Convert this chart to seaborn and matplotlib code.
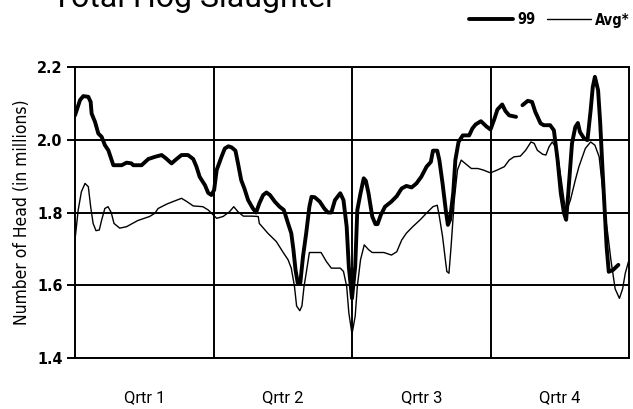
import numpy as np
import pandas as pd
import seaborn as sns
import matplotlib.pyplot as plt

# weekly hog slaughter, millions of head
week_99 = [0, 0.47, 0.78, 1.25, 1.47, 1.56, 1.88, 2.19, 2.5, 2.81, 3.13, 3.6, 4.38, 4.84, 5.3,
           5.47, 6.25, 6.88, 7.5, 8.13, 8.53, 9.06, 9.53, 10.0, 10.6, 11.1, 11.4, 11.7, 12.2,
           12.5, 12.8, 13.06, 13.3, 13.75, 14.06, 14.4, 14.7, 15.06, 15.3, 15.6, 15.9, 16.25,
           16.7, 17.0, 17.3, 17.66, 17.97, 18.3, 18.75, 19.2, 19.6, 20.0, 20.3, 20.5, 20.7,
           20.9, 21.15, 21.4, 21.7, 22.0, 22.2, 22.5, 22.97, 23.4, 23.75, 24.06, 24.4, 24.9,
           25.2, 25.5, 25.7, 26.0, 26.3, 26.5, 26.8, 27.1, 27.3, 27.55, 27.9, 28.2, 28.4, 28.7,
           29.1, 29.7, 30.2, 30.66, 31.1, 31.6, 32.05, 32.5, 33.0, 33.4, 33.6, 34.0, 34.2, 34.5,
           34.8, 35.0, 35.2, 35.5, 35.7, 36.0, 36.4, 37.0, 37.3, 37.6, 38.1, 38.6, 39.0, 39.35,
           39.65, 40.1, 40.4, 40.75, 41.4, 41.7, 42.0, 42.5, 42.9, 43.2, 43.7, 44.0, 44.6, 44.95,
           45.3, 45.6, 45.9, 46.1, 46.3, 46.65, 46.96, 47.2, 47.4, 47.8, 48.1, 48.4, 48.6, 48.8,
           49.1, 49.3, 49.5, 49.7, 49.9, 50.1, 50.5, 51.0]
head_99 = [2.067, 2.109, 2.12, 2.118, 2.104, 2.072, 2.049, 2.017, 2.008, 1.985, 1.971, 1.93, 1.93,
           1.937, 1.935, 1.93, 1.93, 1.947, 1.953, 1.958, 1.949, 1.935, 1.947, 1.958, 1.958,
           1.947, 1.926, 1.898, 1.875, 1.854, 1.848, 1.862, 1.917, 1.953, 1.976, 1.982, 1.979,
           1.97, 1.935, 1.889, 1.866, 1.834, 1.811, 1.80, 1.825, 1.848, 1.855, 1.848, 1.83,
           1.816, 1.807, 1.77, 1.743, 1.698, 1.642, 1.607, 1.607, 1.679, 1.743, 1.816, 1.843,
           1.842, 1.83, 1.811, 1.80, 1.80, 1.834, 1.853, 1.834, 1.761, 1.651, 1.564, 1.651,
           1.807, 1.853, 1.894, 1.887, 1.853, 1.789, 1.768, 1.768, 1.793, 1.816, 1.83, 1.845,
           1.866, 1.873, 1.869, 1.88, 1.898, 1.926, 1.939, 1.97, 1.97, 1.944, 1.88, 1.807, 1.766,
           1.78, 1.853, 1.944, 1.994, 2.012, 2.012, 2.031, 2.042, 2.051, 2.037, 2.028, 2.056,
           2.083, 2.097, 2.079, 2.067, 2.063, np.nan, 2.095, 2.107, 2.104, 2.077, 2.045, 2.04,
           2.04, 2.026, 1.944, 1.853, 1.798, 1.78, 1.853, 1.99, 2.035, 2.046, 2.021, 2.003,
           1.999, 2.081, 2.145, 2.173, 2.136, 2.045, 1.926, 1.816, 1.705, 1.637, 1.642, 1.656]

week_avg = [0, 0.3, 0.6, 0.94, 1.25, 1.47, 1.7, 1.97, 2.28, 2.5, 2.8, 3.1, 3.4, 3.66, 4.2, 4.84,
            5.9, 7.0, 7.5, 7.8, 8.6, 9.2, 10.0, 10.5, 11.1, 12.0, 12.5, 13.3, 13.9, 14.5, 14.9,
            15.3, 15.8, 16.6, 17.2, 17.3, 18.1, 18.9, 19.5, 20.0, 20.3, 20.6, 20.8, 21.1, 21.3,
            21.5, 21.7, 22.0, 22.5, 23.1, 23.6, 24.06, 24.9, 25.2, 25.5, 25.7, 26.0, 26.3, 26.5,
            26.8, 27.15, 27.55, 27.9, 29.0, 29.7, 30.2, 30.66, 31.1, 31.7, 32.4, 33.05, 33.6,
            34.0, 34.2, 34.5, 34.8, 34.9, 35.1, 35.3, 35.6, 35.9, 36.25, 36.7, 37.2, 37.8, 38.3,
            39.0, 39.65, 40.3, 40.75, 41.2, 41.8, 42.3, 42.8, 43.1, 43.4, 43.9, 44.2, 44.5, 44.8,
            45.2, 45.6, 45.9, 46.1, 46.5, 46.96, 47.3, 47.9, 48.4, 48.8, 49.2, 49.5, 49.7, 50.0,
            50.3, 50.7, 51.1, 51.4, 51.65, 52.0]
head_avg = [1.725, 1.807, 1.857, 1.88, 1.871, 1.816, 1.77, 1.75, 1.752, 1.779, 1.811, 1.816, 1.80,
            1.77, 1.757, 1.761, 1.778, 1.789, 1.798, 1.811, 1.823, 1.83, 1.839, 1.83, 1.818,
            1.816, 1.807, 1.784, 1.789, 1.802, 1.816, 1.802, 1.79, 1.79, 1.789, 1.77, 1.743,
            1.72, 1.692, 1.67, 1.647, 1.597, 1.543, 1.53, 1.543, 1.597, 1.633, 1.69, 1.69, 1.69,
            1.665, 1.647, 1.647, 1.638, 1.597, 1.525, 1.466, 1.515, 1.597, 1.67, 1.711, 1.698,
            1.69, 1.69, 1.683, 1.692, 1.724, 1.743, 1.761, 1.78, 1.80, 1.816, 1.82, 1.789, 1.734,
            1.661, 1.638, 1.633, 1.706, 1.834, 1.917, 1.944, 1.933, 1.921, 1.921, 1.917, 1.909,
            1.917, 1.926, 1.944, 1.953, 1.955, 1.971, 1.994, 1.99, 1.971, 1.96, 1.958, 1.981,
            1.994, 1.976, 1.898, 1.834, 1.802, 1.834, 1.889, 1.926, 1.976, 1.994, 1.985, 1.953,
            1.871, 1.807, 1.743, 1.67, 1.59, 1.564, 1.59, 1.633, 1.67]

qtr_labels = ['Qrtr 1', 'Qrtr 2', 'Qrtr 3', 'Qrtr 4']
qtr_centers = [6.5, 19.5, 32.5, 45.5]
qtr_edges = [13, 26, 39]
y_ticks = [1.4, 1.6, 1.8, 2.0, 2.2]

sns.set_style('white')
narrow = ['Liberation Sans Narrow', 'DejaVu Sans']
plt.rcParams['font.family'] = narrow
plt.rcParams['font.stretch'] = 'condensed'
for k in ['text.color', 'axes.labelcolor', 'xtick.color', 'ytick.color']:
    plt.rcParams[k] = 'black'

fig = plt.figure(figsize=(6.33, 4.09), dpi=100)
ax = fig.add_axes([75 / 633, 1 - 358 / 409, 554 / 633, 291 / 409])

# 99 line has a missing week, draw it in pieces so the gap stays
d99 = pd.DataFrame({'week': week_99, 'head': head_99})
gap = d99['head'].isna()
for i, (k, part) in enumerate(d99[~gap].groupby(gap.cumsum()[~gap])):
    sns.lineplot(data=part, x='week', y='head', color='black', lw=2.8, ax=ax,
                 estimator=None, sort=False, label='99' if i == 0 else None)

avg = pd.DataFrame({'week': week_avg, 'head': head_avg})
sns.lineplot(data=avg, x='week', y='head', color='black', lw=1.0, ax=ax,
             estimator=None, sort=False, label='Avg*')

ax.set_xlim(0, 52)
ax.set_ylim(1.4, 2.2)
ax.set_yticks(y_ticks)
ax.set_yticklabels(['%.1f' % v for v in y_ticks], fontweight='bold', fontsize=11.5)
ax.set_xticks(qtr_centers)
ax.set_xticklabels(qtr_labels, fontsize=12, family=['Roboto', 'DejaVu Sans'],
                   fontstretch='normal')
ax.set_xticks(qtr_edges, minor=True)
ax.grid(which='minor', axis='x', color='black', lw=1.4)
ax.grid(which='major', axis='y', color='black', lw=1.4)
ax.grid(which='major', axis='x', visible=False)
ax.tick_params(axis='x', which='both', length=0, pad=23)
ax.tick_params(axis='y', left=True, length=6, width=1.4, direction='out', pad=3)
for s in ax.spines.values():
    s.set_color('black')
    s.set_linewidth(1.4)

ax.set_xlabel('')
ax.set_ylabel('Number of Head (in millions)', fontsize=12.5)
ax.yaxis.set_label_coords(-0.08, 0.5)

fig.text(52 / 633, 1 - 7 / 409, 'Total Hog Slaughter', fontsize=23,
         family=['Roboto', 'DejaVu Sans'], fontstretch='normal', va='baseline')

h, l = ax.get_legend_handles_labels()
ax.legend(h, l, loc='center right', bbox_to_anchor=(630 / 633, 1 - 20 / 409),
          bbox_transform=fig.transFigure, ncol=2, frameon=False,
          prop={'weight': 'bold', 'size': 10.5, 'family': narrow, 'stretch': 'condensed'},
          handlelength=3.0, columnspacing=0.8, handletextpad=0.3,
          borderaxespad=0, borderpad=0)

fig.savefig('out.png', dpi=100)
